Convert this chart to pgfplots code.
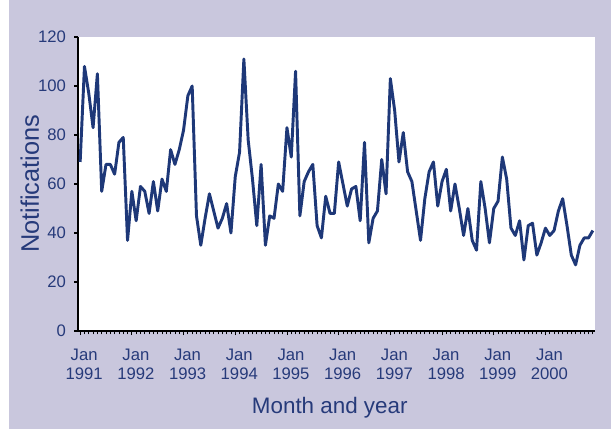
\documentclass[border=0pt]{standalone}
\usepackage{pgfplots}
\pgfplotsset{compat=1.18}
\usepackage{pgfplotstable}
\usepackage{fontspec}
\setmainfont{Liberation Sans}
\definecolor{bg}{RGB}{201,199,221}
\definecolor{navy}{RGB}{30,56,120}
\definecolor{txt}{RGB}{38,58,122}
\pgfplotstableread{
m v
0 69
1 108
2 97
3 83
4 105
5 57
6 68
7 68
8 64
9 77
10 79
11 37
12 57
13 45
14 59
15 57
16 48
17 61
18 49
19 62
20 57
21 74
22 68
23 74
24 82
25 96
26 100
27 47
28 35
29 46
30 56
31 49
32 42
33 46
34 52
35 40
36 63
37 73
38 111
39 78
40 62
41 43
42 68
43 35
44 47
45 46
46 60
47 57
48 83
49 71
50 106
51 47
52 61
53 65
54 68
55 43
56 38
57 55
58 48
59 48
60 69
61 60
62 51
63 58
64 59
65 45
66 77
67 36
68 46
69 49
70 70
71 56
72 103
73 90
74 69
75 81
76 65
77 61
78 49
79 37
80 54
81 65
82 69
83 51
84 61
85 66
86 49
87 60
88 50
89 39
90 50
91 37
92 33
93 61
94 50
95 36
96 50
97 53
98 71
99 62
100 42
101 39
102 45
103 29
104 43
105 44
106 31
107 36
108 42
109 39
110 41
111 49
112 54
113 43
114 31
115 27
116 35
117 38
118 38
119 41
}\datatable
\begin{document}
\begin{tikzpicture}[x=0.75pt,y=0.75pt]
\fill[white] (0,0) rectangle (611,430);
\fill[bg] (9,1) rectangle (611,430);
\begin{axis}[
  at={(58.5pt,74.25pt)}, anchor=south west,
  scale only axis, width=387.75pt, height=220.5pt,
  axis background/.style={fill=white},
  xmin=-0.5, xmax=119.5, ymin=0, ymax=120,
  axis lines*=left,
  axis line style={black, line width=1.1pt},
  ytick={0,20,...,120},
  xtick={0,12,...,108},
  xticklabels={{Jan\\1991},{Jan\\1992},{Jan\\1993},{Jan\\1994},{Jan\\1995},{Jan\\1996},{Jan\\1997},{Jan\\1998},{Jan\\1999},{Jan\\2000}},
  minor xtick={0,1,...,119},
  tick align=outside,
  major tick length=3pt,
  minor tick length=2.5pt,
  x tick style={black, line width=0.6pt},
  y tick style={black, line width=0.8pt},
  tick label style={font=\fontsize{12.5}{14.5}\selectfont, text=txt},
  xticklabel style={align=center, xshift=3pt, yshift=-7pt},
  yticklabel style={xshift=-2.5pt},
  /pgf/number format/assume math mode=true,
  xlabel={Month and year},
  ylabel={Notifications},
  xlabel style={font=\fontsize{16.8}{19}\selectfont, text=txt, at={(axis description cs:0.487,-0.262)}, anchor=center},
  ylabel style={font=\fontsize{19}{22}\selectfont, text=txt, at={(axis description cs:-0.093,0.5)}, anchor=center},
]
\addplot[navy, line width=2.2pt, line join=round] table[x=m, y=v] {\datatable};
\end{axis}
\end{tikzpicture}
\end{document}
